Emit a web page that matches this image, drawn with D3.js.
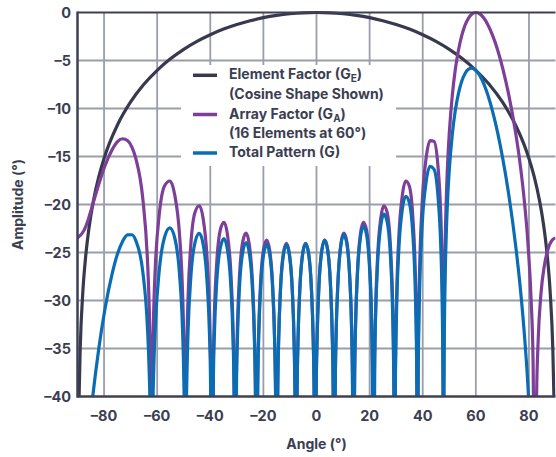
<!DOCTYPE html>
<html><head><meta charset="utf-8">
<script src="https://cdn.jsdelivr.net/npm/d3@7"></script>
<style>body{margin:0;background:#fff}svg{display:block}text{font-family:Inter,Roboto,"Noto Sans",sans-serif;font-weight:700;fill:#3b3e51}</style>
</head><body>
<svg id="c" width="556" height="457"></svg>
<script>
const xTicks = [-80,-60,-40,-20,0,20,40,60,80];
const yTicks = [0,-5,-10,-15,-20,-25,-30,-35,-40];
const legendLabels = [
  ["Element Factor (G", "E", ")"],
  ["(Cosine Shape Shown)"],
  ["Array Factor (G", "A", ")"],
  ["(16 Elements at 60°)"],
  ["Total Pattern (G)"]
];
const seriesNames = ["Element Factor", "Array Factor", "Total Pattern"];

// Element factor (cosine shape), dB
const efAngles = [-89.5,-89,-88,-87,-86,-85,-84,-82,-80,-78,-75,-70,-65,-60,-55,-50,-45,-40,-35,-30,-25,-20,-15,-10,-5,0,5,10,15,20,25,30,35,40,45,50,55,60,65,70,75,78,80,82,84,85,86,87,88,89,89.5];
const efValues = [-41.18,-35.16,-29.14,-25.63,-23.13,-21.19,-19.62,-17.13,-15.21,-13.64,-11.74,-9.32,-7.48,-6.02,-4.83,-3.84,-3.01,-2.32,-1.73,-1.25,-0.86,-0.54,-0.30,-0.13,-0.03,0,-0.03,-0.13,-0.30,-0.54,-0.86,-1.25,-1.73,-2.32,-3.01,-3.84,-4.83,-6.02,-7.48,-9.32,-11.74,-13.64,-15.21,-17.13,-19.62,-21.19,-23.13,-25.63,-29.14,-35.16,-41.18];

// Array factor, 16 elements steered to 60°, dB (-60 = deep null)
const afAngles = [-90,-87.44,-86.13,-85.19,-81.98,-79.73,-76.90,-74.85,-73.03,-71.17,-69.47,-68.08,-65.36,-63.70,-63.06,-62.59,-62.36,-62.13,
 -61.91,-61.69,-61.25,-60.67,-59.25,-57.20,-55.24,-53.37,-51.60,-50.47,-50.03,-49.70,-49.38,
 -49.07,-48.75,-48.33,-47.29,-45.72,-44.15,-42.71,-41.27,-40.31,-39.93,-39.64,-39.35,
 -39.08,-38.81,-38.45,-37.55,-36.20,-34.85,-33.58,-32.30,-31.45,-31.11,-30.86,-30.60,
 -30.36,-30.11,-29.78,-28.97,-27.74,-26.52,-25.34,-24.16,-23.37,-23.05,-22.82,-22.58,
 -22.35,-22.12,-21.81,-21.05,-19.90,-18.75,-17.63,-16.51,-15.76,-15.46,-15.23,-15.01,
 -14.79,-14.57,-14.27,-13.54,-12.43,-11.33,-10.24,-9.15,-8.43,-8.14,-7.92,-7.70,
 -7.48,-7.27,-6.98,-6.26,-5.18,-4.10,-3.02,-1.95,-1.23,-0.94,-0.73,-0.51,
 -0.29,-0.08,0.21,0.92,2.00,3.07,4.15,5.22,5.94,6.23,6.44,6.66,
 6.88,7.09,7.38,8.11,9.19,10.28,11.38,12.48,13.22,13.51,13.73,13.95,
 14.17,14.39,14.69,15.44,16.55,17.67,18.81,19.95,20.71,21.01,21.24,21.47,
 21.70,21.94,22.25,23.03,24.20,25.37,26.58,27.79,28.60,28.93,29.17,29.41,
 29.66,29.90,30.23,31.06,32.33,33.61,34.91,36.24,37.13,37.49,37.76,37.89,38.03,
 38.17,38.30,38.57,38.94,39.86,41.28,42.73,44.22,45.74,46.77,47.19,47.50,47.66,47.82,
 47.97,48.13,48.46,48.90,49.44,50.00,51.13,52.28,53.47,54.69,55.95,57.25,58.60,60.00,61.47,63.00,64.62,66.35,68.21,70.22,72.46,75.02,76.48,78.10,79.59,80.85,81.55,82.32,
 82.88,83.48,84.50,85.77,86.89,87.82,88.78,90];
const afValues = [-23.49,-22.64,-21.72,-20.86,-17.89,-16.01,-14.26,-13.42,-13.15,-13.34,-14.05,-15.17,-19.52,-25.54,-30.05,-36.16,-42.22,-60,
 -42.34,-36.39,-30.52,-26.33,-21.12,-18.05,-17.55,-19.02,-23.07,-28.92,-33.37,-39.43,-60,
 -39.58,-33.66,-29.41,-24.05,-20.79,-20.13,-21.42,-25.31,-31.08,-35.51,-41.55,-60,
 -41.65,-35.71,-31.43,-26.00,-22.62,-21.85,-23.04,-26.84,-32.55,-36.95,-42.97,-60,
 -43.0,-37.09,-32.78,-27.30,-23.84,-22.99,-24.12,-27.85,-33.51,-37.89,-43.90,-60,
 -43.9,-37.98,-33.66,-28.13,-24.61,-23.70,-24.77,-28.44,-34.07,-38.43,-44.43,-60,
 -44.45,-38.48,-34.14,-28.58,-25.01,-24.04,-25.06,-28.68,-34.27,-38.62,-44.61,-60,
 -44.6,-38.62,-34.27,-28.68,-25.06,-24.04,-25.01,-28.58,-34.14,-38.48,-44.45,-60,
 -44.4,-38.43,-34.07,-28.44,-24.77,-23.70,-24.61,-28.13,-33.66,-37.98,-43.94,-60,
 -43.9,-37.89,-33.51,-27.85,-24.12,-22.99,-23.84,-27.30,-32.78,-37.09,-43.04,-60,
 -42.97,-36.95,-32.55,-26.84,-23.04,-21.85,-22.62,-26.00,-31.43,-35.71,-41.65,-60,
 -41.55,-35.51,-31.08,-25.31,-21.42,-20.13,-20.79,-24.05,-29.41,-33.66,-39.58,-60,
 -39.43,-33.37,-28.92,-23.07,-19.02,-17.55,-18.05,-21.12,-26.33,-30.52,-36.39,-42.34,-60,
 -42.22,-36.16,-30.05,-25.54,-19.52,-15.17,-13.34,-13.42,-16.01,-20.86,-24.90,-30.65,-36.55,-60,
 -36.30,-30.15,-23.90,-19.18,-15.35,-12.59,-8.66,-5.92,-3.91,-2.41,-1.32,-0.58,-0.14,0,-0.14,-0.58,-1.32,-2.41,-3.91,-5.92,-8.66,-12.59,-15.35,-19.18,-23.90,-30.15,-36.30,-60,
 -40.03,-34.10,-29.37,-26.42,-24.93,-24.16,-23.69,-23.49];

// Total pattern (element x array), dB
const totAngles = [-86.13,-85.19,-81.98,-79.73,-76.90,-74.85,-73.03,-71.17,-69.47,-68.08,-65.36,-63.70,-63.06,-62.59,-62.13,
 -61.69,-61.25,-60.67,-59.25,-57.20,-55.24,-53.37,-51.60,-50.47,-50.03,-49.70,-49.38,
 -49.07,-48.75,-48.33,-47.29,-45.72,-44.15,-42.71,-41.27,-40.31,-39.93,-39.35,
 -38.81,-38.45,-37.55,-36.20,-34.85,-33.58,-32.30,-31.45,-31.11,-30.60,
 -30.11,-29.78,-28.97,-27.74,-26.52,-25.34,-24.16,-23.37,-23.05,-22.58,
 -22.12,-21.81,-21.05,-19.90,-18.75,-17.63,-16.51,-15.76,-15.46,-15.01,
 -14.57,-14.27,-13.54,-12.43,-11.33,-10.24,-9.15,-8.43,-8.14,-7.70,
 -7.27,-6.98,-6.26,-5.18,-4.10,-3.02,-1.95,-1.23,-0.94,-0.51,
 -0.08,0.21,0.92,2.00,3.07,4.15,5.22,5.94,6.23,6.66,
 7.09,7.38,8.11,9.19,10.28,11.38,12.48,13.22,13.51,13.95,
 14.39,14.69,15.44,16.55,17.67,18.81,19.95,20.71,21.01,21.47,
 21.94,22.25,23.03,24.20,25.37,26.58,27.79,28.60,28.93,29.17,29.41,
 29.66,29.90,30.23,31.06,32.33,33.61,34.91,36.24,37.13,37.49,37.76,38.03,
 38.30,38.57,38.94,39.86,41.28,42.73,44.22,45.74,46.77,47.19,47.50,47.66,47.82,
 47.97,48.13,48.46,48.90,49.44,50.00,51.13,52.28,53.47,54.69,55.95,57.25,58.60,60.00,61.47,63.00,64.62,66.35,68.21,70.22,72.46,75.02,76.48,78.10,79.59,80.85,82.32];
const totValues = [-45.1,-42.4,-35.00,-30.99,-27.15,-25.07,-23.85,-23.16,-23.15,-23.73,-27.12,-32.61,-36.93,-42.9,-60,
 -42.9,-36.89,-32.55,-26.97,-23.39,-22.43,-23.49,-27.19,-32.83,-37.21,-43.21,-60,
 -43.3,-37.29,-32.97,-27.44,-23.92,-23.01,-24.10,-27.80,-33.45,-37.82,-60,
 -37.88,-33.56,-28.02,-24.49,-23.56,-24.63,-28.31,-33.94,-38.30,-60,
 -38.35,-34.02,-28.47,-24.91,-23.96,-25.00,-28.65,-34.26,-38.62,-60,
 -38.64,-34.31,-28.74,-25.15,-24.17,-25.19,-28.81,-34.41,-38.76,-60,
 -38.76,-34.41,-28.83,-25.22,-24.21,-25.20,-28.80,-34.37,-38.71,-60,
 -38.69,-34.34,-28.74,-25.09,-24.06,-25.02,-28.59,-34.14,-38.48,-60,
 -38.43,-34.07,-28.45,-24.78,-23.71,-24.64,-28.17,-33.71,-38.03,-60,
 -37.96,-33.59,-27.94,-24.23,-23.13,-24.02,-27.51,-33.02,-37.33,-60,
 -37.23,-32.84,-27.17,-23.41,-22.27,-23.10,-26.54,-32.01,-36.31,-60,
 -36.16,-31.76,-26.04,-22.22,-21.01,-21.76,-25.12,-30.54,-34.82,-40.76,-60,
 -40.6,-34.61,-30.19,-24.41,-20.48,-19.14,-19.77,-22.99,-28.30,-32.53,-38.43,-60,
 -38.26,-32.19,-27.72,-21.81,-17.65,-16.02,-16.31,-19.13,-24.15,-28.26,-34.06,-39.98,-60,
 -39.79,-33.66,-27.47,-22.82,-19.09,-16.42,-12.71,-10.19,-8.42,-7.17,-6.36,-5.91,-5.80,-6.02,-6.56,-7.44,-8.68,-10.35,-12.52,-15.33,-19.08,-24.34,-27.97,-32.90,-38.76,-46.1,-60];

const colors = ["#373a4f", "#7d3f98", "#0a6db4"];

const svg = d3.select("#c");
const x = d3.scaleLinear().domain([-90, 90]).range([77.5, 555.5]);
const y = d3.scaleLinear().domain([-40, 0]).range([396.5, 12.5]);

// grid
const grid = svg.append("g");
grid.selectAll("line.v").data(xTicks).join("line")
  .attr("x1", d => x(d)).attr("x2", d => x(d)).attr("y1", y(0)).attr("y2", y(-40))
  .attr("stroke", "#9a9dab").attr("stroke-width", 1.8);
grid.selectAll("line.h").data(yTicks.filter(d => d !== 0 && d !== -40)).join("line")
  .attr("x1", x(-90)).attr("x2", x(90)).attr("y1", d => y(d)).attr("y2", d => y(d))
  .attr("stroke", "#9a9dab").attr("stroke-width", 1.8);

// legend background
svg.append("rect").attr("x", 181).attr("y", 65).attr("width", 215).attr("height", 101).attr("fill", "#fff");

// clip
svg.append("clipPath").attr("id", "plot").append("rect")
  .attr("x", x(-90)).attr("y", y(0) - 3).attr("width", x(90) - x(-90)).attr("height", y(-40) - y(0) + 3);

const line = d3.line().x(d => x(d[0])).y(d => y(d[1])).curve(d3.curveMonotoneX);
const series = [
  d3.zip(efAngles, efValues),
  d3.zip(afAngles, afValues),
  d3.zip(totAngles, totValues)
];
const lines = svg.append("g").attr("clip-path", "url(#plot)");
series.forEach((s, i) => {
  lines.append("path").attr("d", line(s)).attr("fill", "none")
    .attr("stroke", colors[i]).attr("stroke-width", 3.2).attr("stroke-linejoin", "round");
});

// frame
const frameColor = "#3e4155";
svg.append("line").attr("x1", x(-90)).attr("x2", x(90)).attr("y1", y(0)).attr("y2", y(0))
  .attr("stroke", frameColor).attr("stroke-width", 2);
svg.append("line").attr("x1", x(-90)).attr("x2", x(90)).attr("y1", y(-40)).attr("y2", y(-40))
  .attr("stroke", frameColor).attr("stroke-width", 2.5);
svg.append("line").attr("x1", x(-90)).attr("x2", x(-90)).attr("y1", y(0) - 1).attr("y2", y(-40) + 1.2)
  .attr("stroke", frameColor).attr("stroke-width", 2.5);

// axes tick labels
const fmt = d => d < 0 ? "\u2013" + Math.abs(d) : String(d);
svg.append("g").selectAll("text").data(yTicks).join("text")
  .attr("x", 71).attr("y", d => y(d)).attr("dy", "0.36em")
  .attr("text-anchor", "end").attr("font-size", 14.5).text(fmt);
svg.append("g").selectAll("text").data(xTicks).join("text")
  .attr("x", d => x(d)).attr("y", 421)
  .attr("text-anchor", "middle").attr("font-size", 14.5).text(fmt);

// axis titles
svg.append("text").attr("x", x(0)).attr("y", 449).attr("text-anchor", "middle")
  .attr("font-size", 14).text("Angle (°)");
svg.append("text").attr("transform", `translate(23,${y(-20)}) rotate(-90)`).attr("text-anchor", "middle")
  .attr("font-size", 14).text("Amplitude (°)");

// legend
const lg = svg.append("g");
const rowY = [79.3, 98.8, 118.5, 138, 157];
const swatchRows = [0, 2, 4];
swatchRows.forEach((r, i) => {
  lg.append("line").attr("x1", 193).attr("x2", 217).attr("y1", rowY[r] - 4).attr("y2", rowY[r] - 4)
    .attr("stroke", colors[i]).attr("stroke-width", 3.5);
});
legendLabels.forEach((parts, r) => {
  const t = lg.append("text").attr("x", 229).attr("y", rowY[r]).attr("font-size", 14);
  t.append("tspan").text(parts[0]);
  if (parts.length > 1) {
    t.append("tspan").attr("font-size", 10).attr("dy", 3).text(parts[1]);
    t.append("tspan").attr("dy", -3).text(parts[2]);
  }
});
</script>
</body></html>
